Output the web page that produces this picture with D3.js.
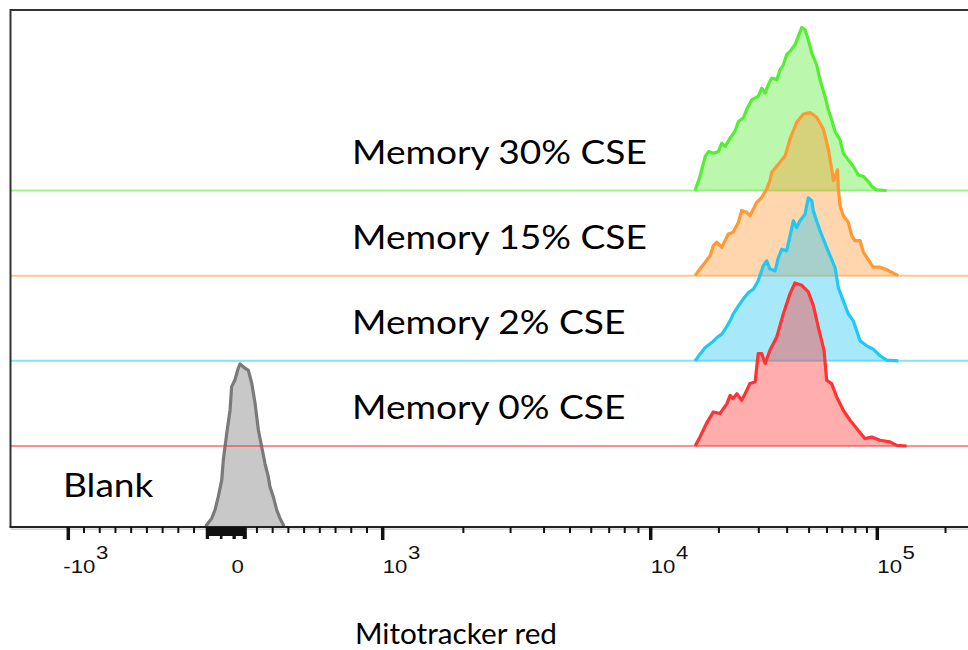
<!DOCTYPE html>
<html><head><meta charset="utf-8">
<script src="https://cdn.jsdelivr.net/npm/d3@7"></script>
<style>body{margin:0;background:#fff;}</style>
</head><body>
<svg id="c" width="968" height="650"></svg>
<script>
// ---------------- data ----------------
const rowLabels = ["Memory 0% CSE", "Memory 2% CSE", "Memory 15% CSE", "Memory 30% CSE"];
const blankLabel = "Blank";
const axisTitle = "Mitotracker red";

const labeledTicks = [-1000, 0, 1000, 10000, 100000];
const tickBase = ["-10", "0", "10", "10", "10"];
const tickExp = ["3", "", "3", "4", "5"];
const majorTicks = [-1000, 1000, 10000, 100000];
const minorTicks = [-900, -800, -700, -600, -500, -400, -300, -200,
  200, 300, 400, 500, 600, 700, 800, 900,
  2000, 3000, 4000, 5000, 6000, 7000, 8000, 9000,
  20000, 30000, 40000, 50000, 60000, 70000, 80000, 90000, 200000];
const zeroTicks = [-120, -115, -110, -105, -100, -95, -90, -85, -80, -75, -70, -65, -60, -55, -50, -45, -40, -35, -30, -25, -20, -15, -10, -5,
  0, 5, 10, 15, 20, 25, 30, 35, 40, 45, 50, 55, 60, 65, 70, 75, 80, 85, 90, 95, 100, 105, 110, 115, 120, 125, 130];
const zeroLong = [-120, -115, -110, -30, -25, 50, 55, 60, 115, 120, 125, 130];

// [intensity, % of max]
const blank = [[-125,0],[-120,1.2],[-88,5.3],[-67,10.4],[-46,18.6],[-24,28.8],[-14,41.1],[8,57.5],[29,71.8],[39,86.1],[60,90.2],[81,97.4],[92,100],[124,97.4],[145,96.3],[167,88.2],[188,75.9],[209,59.5],[230,49.3],[251,39.1],[272,30.9],[283,24.7],[304,18.6],[326,10.4],[347,5.3],[368,1.2],[372,0]];
const mem0 = [[15700,0],[16500,5.5],[17600,13.7],[18900,20.9],[20200,19.9],[21700,26],[22400,31.1],[23100,29.1],[24000,32.1],[25200,28],[26100,32.1],[27400,38.3],[28900,39.3],[29800,56.7],[30900,56.7],[32000,50.6],[33600,58.7],[36000,66.9],[38500,81.2],[41200,93.5],[43300,100],[46400,98.6],[49600,94.5],[52200,86.3],[54900,73],[58200,58.7],[59800,40.3],[62900,38.3],[66200,30.1],[70800,21.9],[75800,15.8],[81100,10.7],[88300,4.5],[94500,5.5],[102800,3.5],[113800,2.5],[121800,0.4],[134800,0]];
const mem2 = [[15700,0],[16500,4.1],[17400,8.2],[18600,11.2],[19600,14.3],[20600,16.4],[21300,19.4],[22400,24.5],[23100,28.7],[24400,33.7],[25600,37.9],[27000,41.9],[28400,44],[29800,49.1],[31400,58.3],[32500,61.3],[33600,56.3],[35400,55.2],[36600,63.4],[37900,68.5],[39800,67.5],[41200,76.7],[42600,85.9],[44100,81.8],[45600,85.9],[48000,90],[49600,100],[51400,98.2],[52200,92],[55900,79.8],[59800,69.5],[65100,57.2],[67300,45],[70800,36.8],[74500,28.7],[78400,24.5],[83900,12.3],[89800,9.2],[96000,7.2],[102800,3.1],[110000,0.4],[123800,0]];
const mem15 = [[15700,0],[16500,4.1],[17400,8.2],[18300,12.3],[18900,18.4],[19600,20.5],[20600,17.4],[21300,21.5],[22000,25.6],[23100,26.6],[24400,32.8],[25200,39.9],[26500,38.9],[27400,36.8],[28400,40.9],[29400,45],[30900,48.1],[32500,53.2],[33600,58.3],[34200,63.4],[37200,69.6],[39200,73.6],[41200,83.9],[44100,94.1],[47200,99.2],[50500,100],[54000,97.2],[57800,90],[60800,77.7],[62900,65.5],[64000,58.3],[66800,65],[67300,54],[68500,42.9],[70800,36.8],[74500,32.8],[77100,24.5],[79700,21.5],[83900,21.5],[86800,14.4],[92900,8.2],[96000,5.2],[102800,5.2],[110000,3.7],[117700,1.5],[123800,0]];
const mem30 = [[15700,0],[16500,8.6],[17400,20.9],[18000,23.9],[18900,22.9],[19900,23.9],[20600,29.1],[21300,27],[22400,32.1],[23500,36.2],[24400,42.3],[25600,44.4],[26500,49.5],[27900,55.6],[29800,57.7],[30900,62.8],[32000,59.8],[33000,64.8],[34200,69],[36000,67.9],[37200,74],[38500,77.1],[39800,83.3],[41200,85.3],[43300,89.4],[44800,94.5],[46400,100],[48000,98.6],[49600,92.5],[51400,84.3],[54000,77.1],[55900,67.9],[58800,57.7],[60800,49.5],[62900,43.4],[65100,36.2],[68500,31.1],[70800,22.9],[74500,18.8],[78400,14.7],[82400,9.6],[86800,8.6],[91300,5.5],[94500,2.5],[99400,0.4],[110000,0]];
const memSeries = [mem0, mem2, mem15, mem30];
const memColors = ["#ff3333", "#22c8f4", "#ff9933", "#55ee33"];

// ---------------- layout ----------------
const svg = d3.select("#c");
const axisY = 527, left = 10.5, right = 968;
// biexponential-like display: linear within ±10^3, log above
const decade = v => v <= 1000 ? v / 1000 : 1 + Math.log10(v / 1000);
const xDisp = d3.scaleLinear().domain([-1, 0, 1, 2, 3]).range([68.3, 225.5, 382.7, 650.7, 877.3]);
const x = v => xDisp(decade(v));
const h = d3.scaleLinear().domain([0, 100]).range([0, 163]);
const rowY = d3.scaleLinear().domain([0, 3]).range([446, 190.5]);

function drawHist(data, base, stroke, fill, fillOpacity) {
  const area = d3.area().x(d => x(d[0])).y0(base).y1(d => base - h(d[1]));
  const line = d3.line().x(d => x(d[0])).y(d => base - h(d[1]));
  svg.append("path").attr("d", area(data)).attr("fill", fill).attr("fill-opacity", fillOpacity);
  svg.append("path").attr("d", line(data)).attr("fill", "none").attr("stroke", stroke)
    .attr("stroke-width", 3.2).attr("stroke-linejoin", "round");
}

// Blank (gray) histogram sits on the axis
drawHist(blank, axisY, "#7a7a7a", "#c8c8c8", 1);

// Memory rows, top row first so lower rows overlap on top
for (let i = 3; i >= 0; i--) {
  const base = rowY(i);
  svg.append("line").attr("x1", left).attr("x2", right).attr("y1", base).attr("y2", base)
    .attr("stroke", memColors[i]).attr("stroke-opacity", 0.55).attr("stroke-width", 2);
  drawHist(memSeries[i], base, memColors[i], memColors[i], 0.4);
}

// frame
svg.append("path").attr("d", `M${left},${axisY} V10 H${right + 10}`).attr("fill", "none")
  .attr("stroke", "#333").attr("stroke-width", 2);
svg.append("line").attr("x1", left).attr("x2", right).attr("y1", axisY + 2.2).attr("y2", axisY + 2.2)
  .attr("stroke", "#c8c8c8").attr("stroke-width", 1.2);
svg.append("line").attr("x1", left - 1).attr("x2", right).attr("y1", axisY).attr("y2", axisY)
  .attr("stroke", "#222").attr("stroke-width", 2);

// ticks
const tg = svg.append("g");
tg.selectAll(".mn").data(minorTicks).join("line")
  .attr("x1", d => x(d)).attr("x2", d => x(d)).attr("y1", axisY).attr("y2", axisY + 6)
  .attr("stroke", "#111").attr("stroke-width", 2);
tg.selectAll(".zr").data(zeroTicks).join("line")
  .attr("x1", d => x(d)).attr("x2", d => x(d)).attr("y1", axisY)
  .attr("y2", d => axisY + (zeroLong.includes(d) ? 12 : 9))
  .attr("stroke", "#111").attr("stroke-width", 1.8);
tg.selectAll(".mj").data(majorTicks).join("line")
  .attr("x1", d => x(d)).attr("x2", d => x(d)).attr("y1", axisY).attr("y2", axisY + 13)
  .attr("stroke", "#111").attr("stroke-width", 3.5);

// tick labels
labeledTicks.forEach((v, i) => {
  const dx = v < 0 ? -5 : (v === 0 ? 6 : 0);
  const g = svg.append("g").attr("transform", `translate(${x(v) + dx},573) scale(1.2,1)`);
  const t = g.append("text").attr("font-family", "'Liberation Sans', Arial, sans-serif")
    .attr("font-size", 18.5).attr("fill", "#111").text(tickBase[i]);
  if (tickExp[i]) {
    const w = t.node().getComputedTextLength();
    g.append("text").attr("x", w + 0.5).attr("y", -14.5)
      .attr("font-family", "'Liberation Sans', Arial, sans-serif")
      .attr("font-size", 18.5).attr("fill", "#111").text(tickExp[i]);
  }
});

// row labels
const labelFont = "Lato, 'Open Sans', sans-serif";
const probe = svg.append("text").attr("font-family", labelFont).attr("font-size", 32.5).text(rowLabels[3]);
const sx = 295 / probe.node().getComputedTextLength();
probe.remove();
rowLabels.forEach((s, i) => {
  svg.append("text").attr("transform", `translate(352,${rowY(i) - 27}) scale(${sx},1)`)
    .attr("font-family", labelFont).attr("font-size", 32.5).attr("fill", "#000").text(s);
});
svg.append("text").attr("transform", `translate(63,${axisY - 30.3}) scale(${sx},1)`)
  .attr("font-family", labelFont).attr("font-size", 32.5).attr("fill", "#000").text(blankLabel);

// axis title
const tt = svg.append("text").attr("font-family", labelFont).attr("font-size", 28.8).attr("fill", "#000").text(axisTitle);
const tsx = 202 / tt.node().getComputedTextLength();
tt.attr("transform", `translate(355,643.5) scale(${tsx},1)`);
</script>
</body></html>
